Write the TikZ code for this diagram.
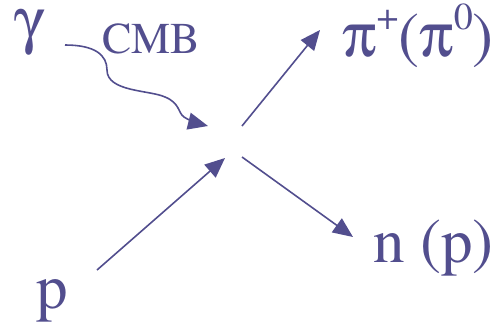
\documentclass[tikz,border=0pt]{standalone}
\usepackage[T1]{fontenc}
\usepackage{times}
\usepackage[Symbol]{upgreek}
\usetikzlibrary{arrows.meta}
\definecolor{ink}{RGB}{82,78,142}
\newcommand{\bigtxt}{\fontsize{63}{63}\selectfont}
\newcommand{\midtxt}{\fontsize{44}{44}\selectfont}
\newcommand{\suptxt}[1]{\raisebox{0.42em}{\fontsize{38}{38}\selectfont #1}}
\begin{document}
\begin{tikzpicture}[x=1pt,y=-1pt,
  lab/.style={inner sep=0pt,anchor=base west,text=ink,font=\bigtxt},
  arr/.style={draw=ink,line width=1.6pt,-{Triangle[length=20pt,width=17pt]}}]
\useasboundingbox (0,0) rectangle (500,327);
\node[lab] (gamma) at (14,41) {$\upgamma$};
\node[lab,font=\midtxt] (cmb) at (102,53) {CMB};
\node[lab] (pi) at (342,56) {$\uppi$\suptxt{+}($\uppi$\suptxt{0})};
\node[lab] (np) at (373,262) {n (p)};
\node[lab] (p) at (36,308) {p};
\coordinate (ph0) at (65,45);
\coordinate (ph1) at (208,126);
\coordinate (p0) at (97,270);
\coordinate (p1) at (225,158);
\coordinate (pi0) at (242,126);
\coordinate (pi1) at (320,30);
\coordinate (n0) at (242,157);
\coordinate (n1) at (353,237);
\draw[arr] (ph0) .. controls (95,45) and (107,55) .. (107,70)
  .. controls (107,92) and (150,90) .. (165,97)
  .. controls (180,103) and (178,113) .. (184,117)
  .. controls (190,121) and (200,124) .. (ph1);
\draw[arr] (p0) -- (p1);
\draw[arr] (pi0) -- (pi1);
\draw[arr] (n0) -- (n1);
\end{tikzpicture}
\end{document}
